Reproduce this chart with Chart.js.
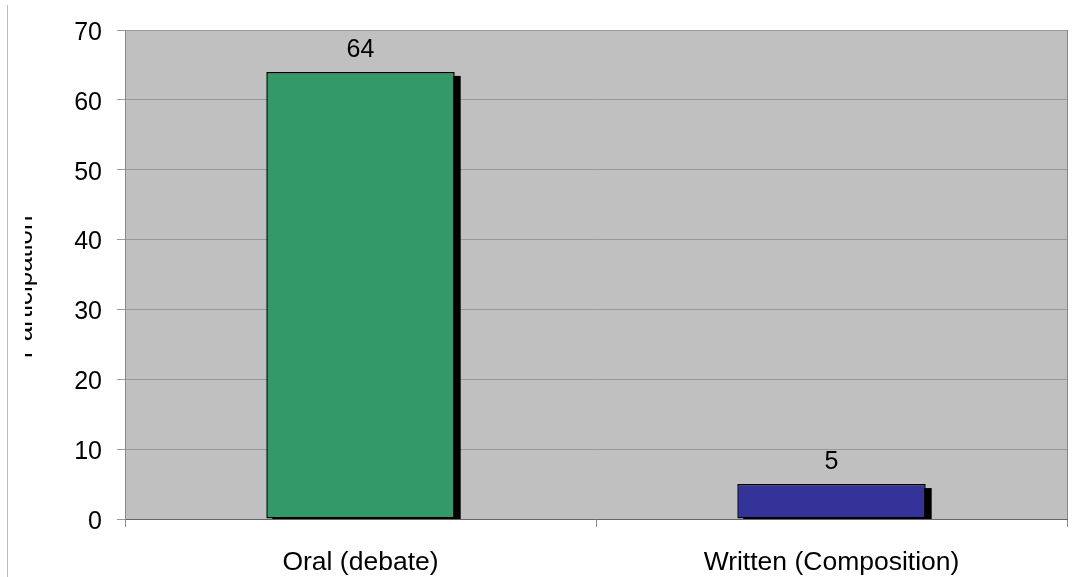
<!DOCTYPE html>
<html>
<head>
<meta charset="utf-8">
<script src="https://cdn.jsdelivr.net/npm/chart.js@4.4.1/dist/chart.umd.min.js"></script>
<style>
  html, body { margin: 0; padding: 0; background: #ffffff; }
  #wrap { position: relative; width: 1080px; height: 577px; }
  #edge { position: absolute; left: 7px; top: 5px; width: 1px; height: 572px; background: #bdbdbd; }
</style>
</head>
<body>
<div id="wrap">
  <canvas id="chart" width="1080" height="577"></canvas>
  <div id="edge"></div>
</div>
<script>
// Scores by activity type
const categories = ['Oral (debate)', 'Written (Composition)'];
const scores = [64, 5];
const barColors = ['#339966', '#333399'];
const yTicks = [0, 10, 20, 30, 40, 50, 60, 70];
const yTitle = 'Participation';

const FONT = "'Liberation Sans', Arial, sans-serif";

// Grey plot backdrop and frame
const plotBackground = {
  id: 'plotBackground',
  beforeDraw(chart) {
    const { ctx, chartArea: a } = chart;
    ctx.save();
    ctx.fillStyle = '#c0c0c0';
    ctx.fillRect(a.left, a.top, a.right - a.left, a.bottom - a.top);
    ctx.restore();
  },
  afterDraw(chart) {
    const { ctx, chartArea: a } = chart;
    ctx.save();
    ctx.strokeStyle = '#8a8a8a';
    ctx.lineWidth = 1;
    ctx.beginPath();
    ctx.moveTo(a.right + 0.5, a.top);
    ctx.lineTo(a.right + 0.5, a.bottom);
    ctx.stroke();
    ctx.restore();
  }
};

// Drop shadow behind each bar, offset down-right
const barShadow = {
  id: 'barShadow',
  beforeDatasetsDraw(chart) {
    const { ctx, chartArea: a } = chart;
    const meta = chart.getDatasetMeta(0);
    ctx.save();
    ctx.beginPath();
    ctx.rect(a.left, a.top, a.right - a.left, a.bottom - a.top);
    ctx.clip();
    ctx.fillStyle = '#000000';
    meta.data.forEach(bar => {
      const p = bar.getProps(['x', 'y', 'base', 'width'], true);
      const left = p.x - p.width / 2;
      ctx.fillRect(left + 6, p.y + 4, p.width, p.base - p.y);
    });
    ctx.restore();
  }
};

// Value printed above each bar
const valueLabels = {
  id: 'valueLabels',
  afterDatasetsDraw(chart) {
    const { ctx } = chart;
    const meta = chart.getDatasetMeta(0);
    ctx.save();
    ctx.font = '25px ' + FONT;
    ctx.fillStyle = '#000000';
    ctx.textAlign = 'center';
    ctx.textBaseline = 'middle';
    meta.data.forEach((bar, i) => {
      ctx.fillText(String(scores[i]), bar.x, bar.y - 22);
    });
    ctx.restore();
  }
};

// Rotated axis title, trimmed at the left margin
const sideTitle = {
  id: 'sideTitle',
  afterDraw(chart) {
    const { ctx } = chart;
    ctx.save();
    ctx.beginPath();
    ctx.rect(25, 0, 60, chart.height);
    ctx.clip();
    ctx.translate(32, 287);
    ctx.rotate(-Math.PI / 2);
    ctx.font = '26px ' + FONT;
    ctx.fillStyle = '#000000';
    ctx.textAlign = 'center';
    ctx.textBaseline = 'alphabetic';
    ctx.fillText(yTitle, 0, 0);
    ctx.restore();
  }
};

new Chart(document.getElementById('chart'), {
  type: 'bar',
  data: {
    labels: categories,
    datasets: [{
      data: scores,
      backgroundColor: barColors,
      borderColor: '#000000',
      borderWidth: 1.5,
      borderSkipped: false,
      categoryPercentage: 1.0,
      barPercentage: 0.4
    }]
  },
  options: {
    responsive: false,
    animation: false,
    devicePixelRatio: 1,
    layout: { padding: { top: 29, right: 13, bottom: 0, left: 0 } },
    plugins: {
      legend: { display: false },
      tooltip: { enabled: false }
    },
    scales: {
      x: {
        afterFit(scale) { scale.height = 58; },
        grid: {
          display: true,
          drawOnChartArea: false,
          drawTicks: true,
          tickLength: 8,
          color: '#8a8a8a',
          offset: true
        },
        border: { display: true, color: '#666666', width: 1 },
        ticks: {
          color: '#000000',
          font: { family: FONT, size: 26.5 },
          padding: 20
        }
      },
      y: {
        min: 0,
        max: 70,
        afterFit(scale) { scale.width = 125; },
        afterBuildTicks(scale) { scale.ticks = yTicks.map(v => ({ value: v })); },
        grid: {
          color: '#999999',
          tickLength: 8,
          drawTicks: true
        },
        border: { display: true, color: '#8a8a8a', width: 1 },
        ticks: {
          color: '#000000',
          font: { family: FONT, size: 25 },
          padding: 15,
          labelOffset: 3
        }
      }
    }
  },
  plugins: [plotBackground, barShadow, valueLabels, sideTitle]
});
</script>
</body>
</html>
